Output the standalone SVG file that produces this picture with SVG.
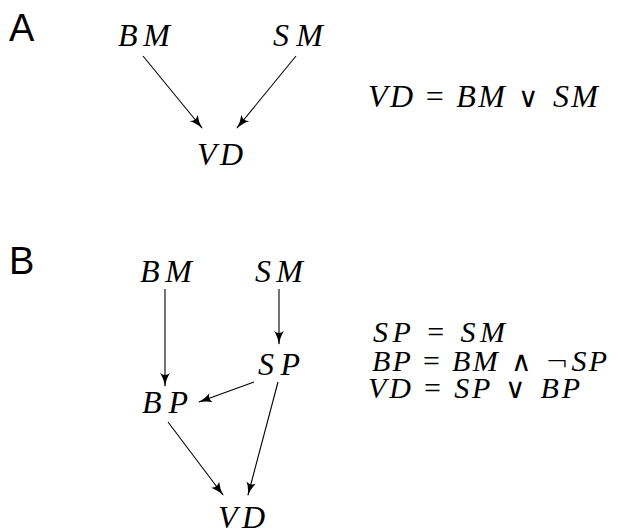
<svg xmlns="http://www.w3.org/2000/svg" width="618" height="531" viewBox="0 0 618 531">
<style>
.lbl{font-family:"Liberation Sans",Arial,sans-serif;font-size:38px;fill:#000}
.m{font-family:"Liberation Serif","Times New Roman",serif;font-style:italic;font-size:32px;fill:#000}
.q{font-size:30px}
.op{font-style:normal}
.lg{font-style:normal;font-family:"DejaVu Sans",sans-serif;font-size:28px;font-weight:200}
.e{stroke:#000;stroke-width:1.1;fill:none;marker-end:url(#ah)}
</style>
<defs>
<marker id="ah" viewBox="0 0 14 10" refX="13" refY="5" markerWidth="14" markerHeight="10" markerUnits="userSpaceOnUse" orient="auto">
<path d="M0,0 Q6,4 14,5 Q6,6 0,10 Q4,5 0,0 z" fill="#000"/>
</marker>
</defs>
<text class="lbl" x="9" y="41">A</text>
<text class="lbl" x="9" y="274">B</text>
<g id="nA_BM"><text class="m" x="118" y="46" textLength="52" lengthAdjust="spacing">BM</text></g>
<g id="nA_SM"><text class="m" x="273" y="46" textLength="50" lengthAdjust="spacing">SM</text></g>
<g id="nA_VD"><text class="m" x="197" y="165" textLength="46" lengthAdjust="spacing">VD</text></g>
<g id="eqA"><text class="m" x="368" y="107" textLength="230" lengthAdjust="spacing">VD<tspan class="op"> = </tspan>BM<tspan class="lg"> ∨ </tspan>SM</text></g>
<g id="nB_BM"><text class="m" x="140" y="282" textLength="52" lengthAdjust="spacing">BM</text></g>
<g id="nB_SM"><text class="m" x="255" y="282" textLength="48" lengthAdjust="spacing">SM</text></g>
<g id="nB_SP"><text class="m" x="258" y="375" textLength="42" lengthAdjust="spacing">SP</text></g>
<g id="nB_BP"><text class="m" x="142" y="413" textLength="46" lengthAdjust="spacing">BP</text></g>
<g id="nB_VD"><text class="m" x="218" y="528" textLength="47" lengthAdjust="spacing">VD</text></g>
<g id="eqB">
<text class="m q" x="373" y="342" textLength="132" lengthAdjust="spacing">SP<tspan class="op"> = </tspan>SM</text>
<text class="m q" x="372" y="371" textLength="235" lengthAdjust="spacing">BP<tspan class="op"> = </tspan>BM<tspan class="lg"> ∧ ¬</tspan>SP</text>
<text class="m q" x="368" y="398" textLength="212" lengthAdjust="spacing">VD<tspan class="op"> = </tspan>SP<tspan class="lg"> ∨ </tspan>BP</text>
</g>
<g id="connectors">
<line class="e" x1="143" y1="56" x2="202" y2="128"/>
<line class="e" x1="296" y1="56" x2="237" y2="128"/>
<line class="e" x1="165" y1="289" x2="165" y2="386"/>
<line class="e" x1="279" y1="289" x2="279" y2="344"/>
<line class="e" x1="254" y1="382" x2="199" y2="402"/>
<line class="e" x1="278" y1="382" x2="248" y2="495"/>
<line class="e" x1="168" y1="422" x2="223" y2="495"/>
</g>
</svg>
